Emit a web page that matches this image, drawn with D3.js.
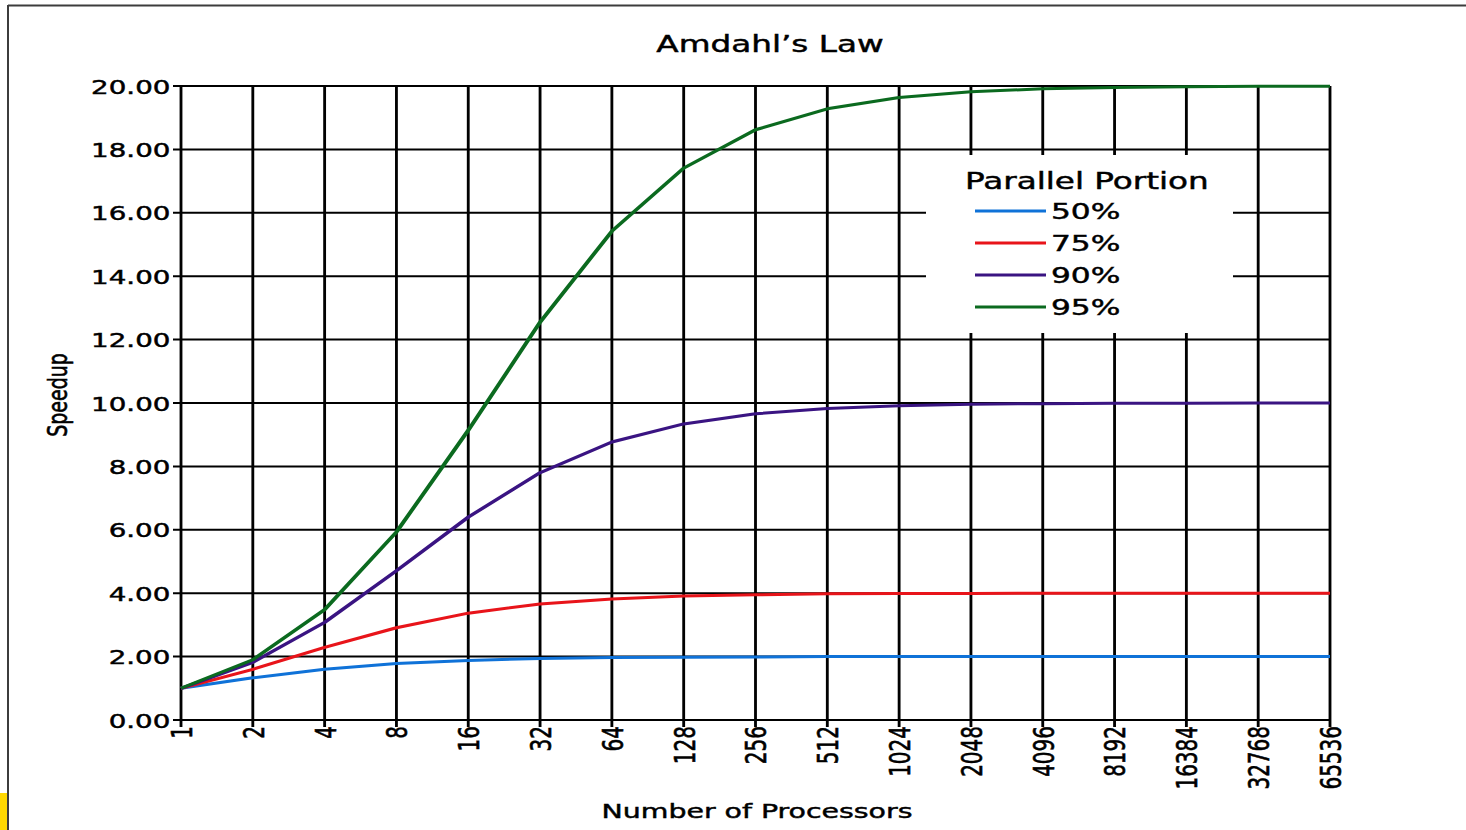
<!DOCTYPE html>
<html>
<head>
<meta charset="utf-8">
<script src="https://cdn.jsdelivr.net/npm/d3@7/dist/d3.min.js"></script>
<style>
  html, body { margin: 0; padding: 0; background: #fff; }
  svg { display: block; }
  text { font-family: "DejaVu Sans", sans-serif; fill: #000; stroke: #000; stroke-width: 0.45px; }
</style>
</head>
<body>
<svg id="chart" width="1466" height="830"></svg>
<script>
// ---- data ----
const processors = [1, 2, 4, 8, 16, 32, 64, 128, 256, 512, 1024, 2048, 4096, 8192, 16384, 32768, 65536];
const seriesNames = ["50%", "75%", "90%", "95%"];
const speedup50 = [1.00, 1.33, 1.60, 1.78, 1.88, 1.94, 1.97, 1.98, 1.99, 2.00, 2.00, 2.00, 2.00, 2.00, 2.00, 2.00, 2.00];
const speedup75 = [1.00, 1.60, 2.29, 2.91, 3.37, 3.66, 3.82, 3.91, 3.95, 3.98, 3.99, 3.99, 4.00, 4.00, 4.00, 4.00, 4.00];
const speedup90 = [1.00, 1.82, 3.08, 4.71, 6.40, 7.80, 8.77, 9.34, 9.66, 9.83, 9.91, 9.96, 9.98, 9.99, 9.99, 10.00, 10.00];
const speedup95 = [1.00, 1.90, 3.48, 5.93, 9.14, 12.55, 15.42, 17.41, 18.62, 19.28, 19.64, 19.82, 19.91, 19.95, 19.98, 19.99, 19.99];
const yTickValues = [0, 2, 4, 6, 8, 10, 12, 14, 16, 18, 20];
const seriesColors = ["#0f72d8", "#e8141a", "#3a1482", "#0b6a1f"];

const allSeries = [speedup50, speedup75, speedup90, speedup95];

// ---- layout ----
const SX = 1.42;           // horizontal stretch of the picture
const svg = d3.select("#chart");
svg.append("rect").attr("width", 1466).attr("height", 830).attr("fill", "#fff");

// frame
svg.append("line").attr("x1", 8).attr("x2", 1466).attr("y1", 5.5).attr("y2", 5.5)
  .attr("stroke", "#3c3c3c").attr("stroke-width", 2);
svg.append("line").attr("x1", 8).attr("x2", 8).attr("y1", 5).attr("y2", 830)
  .attr("stroke", "#3c3c3c").attr("stroke-width", 2);
svg.append("rect").attr("x", 0).attr("y", 793).attr("width", 7).attr("height", 37).attr("fill", "#ffd800");

const g = svg.append("g").attr("transform", `scale(${SX},1)`);

const x0 = 181 / SX, x1 = 1330 / SX, yTop = 86, yBot = 720;
const x = d3.scaleLog().base(2).domain([1, 65536]).range([x0, x1]);
const y = d3.scaleLinear().domain([0, 20]).range([yBot, yTop]);

// gridlines
g.append("g").selectAll("line").data(yTickValues).join("line")
  .attr("x1", x0 - 8 / SX).attr("x2", x1)
  .attr("y1", d => y(d)).attr("y2", d => y(d))
  .attr("stroke", "#000").attr("stroke-width", 2);
g.append("g").selectAll("line").data(processors).join("line")
  .attr("x1", d => x(d)).attr("x2", d => x(d))
  .attr("y1", yTop).attr("y2", yBot + 7)
  .attr("stroke", "#000").attr("stroke-width", 2);

// legend background (covers grid)
const lgX = 926 / SX, lgY = 155, lgW = (1233 - 926) / SX, lgH = 178;
g.append("rect").attr("x", lgX).attr("y", lgY).attr("width", lgW).attr("height", lgH).attr("fill", "#fff");

// axes
const yAxis = d3.axisLeft(y).tickValues(yTickValues).tickFormat(d3.format(".2f")).tickSize(0).tickPadding(7.5);
const yg = g.append("g").attr("transform", `translate(${x0},0)`).call(yAxis);
yg.select(".domain").remove();
yg.selectAll("text").attr("font-family", "DejaVu Sans").attr("font-size", 19.5).attr("fill", "#000").attr("dy", "0.36em");

const xAxis = d3.axisBottom(x).tickValues(processors).tickFormat(d3.format("d")).tickSize(0);
const xg = g.append("g").attr("transform", `translate(0,${yBot})`).call(xAxis);
xg.select(".domain").remove();
xg.selectAll("text")
  .attr("font-family", "DejaVu Sans").attr("font-size", 20).attr("fill", "#000")
  .attr("transform", "rotate(-90)")
  .attr("text-anchor", "end")
  .attr("x", -6).attr("y", 0).attr("dy", "0.36em");

// lines
const line = d3.line().x((d, i) => x(processors[i])).y(d => y(d));
g.append("g").selectAll("path").data(allSeries).join("path")
  .attr("d", d => line(d))
  .attr("fill", "none")
  .attr("stroke", (d, i) => seriesColors[i])
  .attr("stroke-width", 3)
  .attr("stroke-linejoin", "round");

// title & axis labels
g.append("text").attr("x", 770 / SX).attr("y", 52).attr("text-anchor", "middle")
  .attr("font-size", 23).text("Amdahl’s Law");
g.append("text").attr("x", 757 / SX).attr("y", 818).attr("text-anchor", "middle")
  .attr("font-size", 20).text("Number of Processors");
g.append("text").attr("transform", `translate(${67 / SX},395) rotate(-90)`).attr("text-anchor", "middle")
  .attr("font-family", "Open Sans").attr("font-size", 19).text("Speedup");

// legend
g.append("text").attr("x", 965 / SX).attr("y", 189).attr("font-size", 23).text("Parallel Portion");
const items = g.append("g").selectAll("g").data(seriesNames).join("g")
  .attr("transform", (d, i) => `translate(0,${211 + i * 32})`);
items.append("line").attr("x1", 975 / SX).attr("x2", 1046 / SX).attr("y1", 0).attr("y2", 0)
  .attr("stroke", (d, i) => seriesColors[i]).attr("stroke-width", 3);
items.append("text").attr("x", 1051 / SX).attr("y", 0).attr("dy", "0.36em")
  .attr("font-size", 22).text(d => d);
</script>
</body>
</html>
